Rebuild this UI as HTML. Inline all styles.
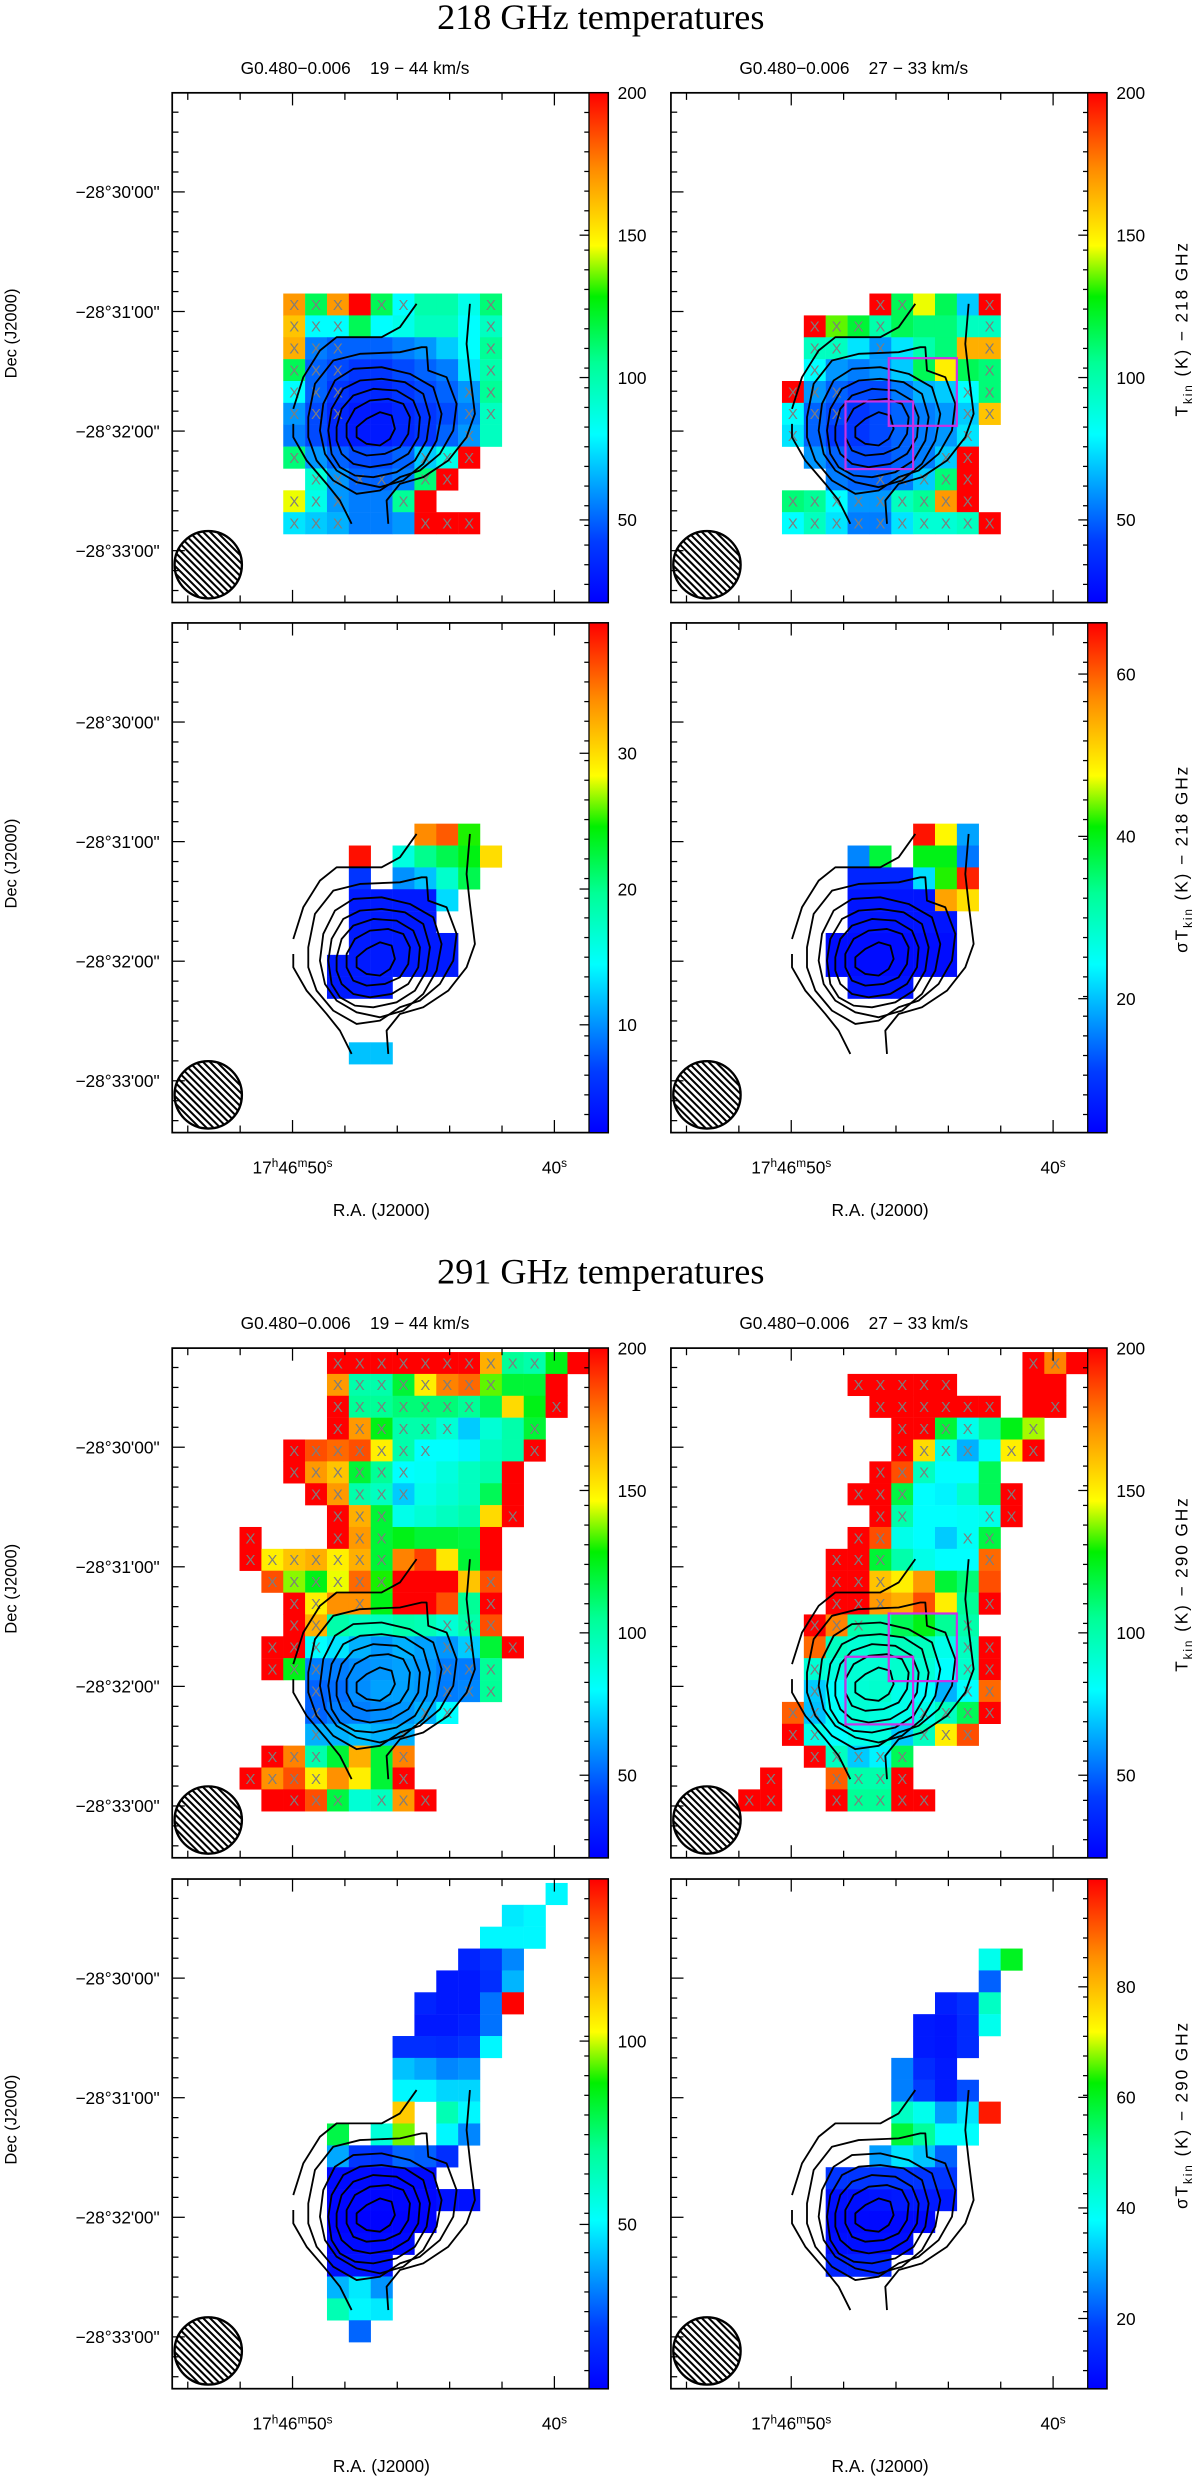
<!DOCTYPE html>
<html>
<head>
<meta charset="utf-8">
<style>
  html,body{margin:0;padding:0;background:#fff;}
  svg{display:block;}
  text{font-family:"Liberation Sans",sans-serif;fill:#000;}
  .serif{font-family:"Liberation Serif",serif;}
</style>
</head>
<body>
<svg id="fig" xmlns="http://www.w3.org/2000/svg" width="1200" height="2476" viewBox="0 0 763 1574" preserveAspectRatio="none">
  <defs>
    <linearGradient id="jet" x1="0" y1="1" x2="0" y2="0">
      <stop offset="0" stop-color="rgb(0,0,255)"/>
      <stop offset="0.12" stop-color="rgb(0,60,255)"/>
      <stop offset="0.33" stop-color="rgb(0,255,255)"/>
      <stop offset="0.47" stop-color="rgb(0,255,150)"/>
      <stop offset="0.6" stop-color="rgb(0,240,0)"/>
      <stop offset="0.7" stop-color="rgb(255,255,0)"/>
      <stop offset="0.85" stop-color="rgb(255,140,0)"/>
      <stop offset="1" stop-color="rgb(255,0,0)"/>
    </linearGradient>
  </defs>
  <text class="serif" x="382" y="18.5" font-size="23" text-anchor="middle">218 GHz temperatures</text>
  <text class="serif" x="382" y="816" font-size="23" text-anchor="middle">291 GHz temperatures</text>
</svg>
<script>
// ---------- DATA ----------
const n = null;
// each row: [startColumn, value, value, ...]
const p1RowStart = 9;
const p1Rows = [
  [2,170,115,170,200,115,80,100,100,85,110],
  [2,160,80,80,115,80,85,95,95,80,95],
  [2,165,55,50,50,50,55,60,70,80,105],
  [2,115,50,45,40,40,45,50,55,75,100],
  [2,80,50,40,35,35,40,45,50,60,105],
  [2,60,45,35,30,30,35,40,45,55,95],
  [2,55,45,35,30,30,35,40,50,60,95],
  [2,110,60,50,45,45,50,70,85,200],
  [3,90,60,50,50,55,110,200],
  [2,145,85,60,55,55,105,200],
  [2,75,70,65,55,55,60,200,200,200]
];
const p1Mask = ["..xxx.xx...x....","..xxx......x....","..xxx......x....","..xxx......x....","..xxx.....xx....","..xxx.....xx....","..........x.....","..x.....xxx.....","...xxxx.xx......","..xxx..x........","..xxx...xxx....."];
const p1Range = [21,200];
const p1Ticks = [50,100,150,200];

const p2RowStart = 9;
const p2Rows = [
  [6,200,115,145,115,70,200],
  [3,200,135,120,100,115,110,110,95,95],
  [3,95,95,75,60,75,100,110,165,165],
  [3,80,60,55,60,70,115,150,115,110],
  [2,200,60,50,45,45,55,65,70,80,110],
  [2,80,50,45,40,45,50,55,60,70,160],
  [2,75,50,40,40,45,50,55,60,75],
  [3,60,50,45,45,50,55,70,200],
  [4,55,50,50,55,70,110,200],
  [2,110,105,80,60,60,95,105,170,200],
  [2,80,95,75,55,55,75,90,90,95,200]
];
const p2Mask = ["......xx...x....","...xxxx....x....","...xx.x....x....","...x.......x....","..xxx.....xx....","..xxx.....xx....","..x.......x.....",".........xx.....","......xxxxx.....","..xxxxxxxxx.....","..xxxxxxxxxx...."];
const p2Range = [21,200];
const p2Ticks = [50,100,150,200];

const p3RowStart = 9;
const p3Rows = [
  [8,34,36,25],
  [5,39,n,16,20,22,24,30],
  [5,6,n,10,12,17,22],
  [5,4,4,4,4,13],
  [5,4,4,4,4],
  [5,4,4,4,4,4],
  [4,4,4,4,4,4,4],
  [4,4,4,4],
  [],
  [],
  [5,12,12]
];
const p3Range = [2.06,39.6];
const p3Ticks = [10,20,30];

const p4RowStart = 9;
const p4Rows = [
  [8,65,48,18],
  [5,16,38,n,40,40,15],
  [5,8,8,8,22,42,64],
  [5,6,6,6,6,55,50],
  [5,6,6,6,6,6],
  [4,5,5,5,5,5,5],
  [4,5,5,5,5,5,5],
  [5,6,6,6]
];
const p4Range = [3.5,66.3];
const p4Ticks = [20,40,60];

const p5RowStart = 0;
const p5Rows = [
  [4,200,200,200,200,200,200,200,165,105,100,125,200],
  [4,170,100,100,120,150,175,180,135,120,120,200],
  [4,200,105,105,110,110,110,105,115,155,125,200],
  [4,200,170,125,100,100,90,70,90,100,120],
  [2,200,185,180,185,150,100,80,80,78,95,100,200],
  [2,200,170,160,120,105,80,82,88,95,100,200],
  [3,200,170,100,95,70,85,90,95,115,200],
  [4,200,165,120,85,90,95,100,155,200],
  [0,200,n,n,n,200,170,120,125,120,120,118,200],
  [0,200,150,160,165,150,165,120,175,188,152,120,200],
  [1,185,138,125,145,180,130,200,200,200,160,185],
  [2,200,150,172,172,125,200,200,185,105,200],
  [2,200,165,100,95,95,100,98,90,100,185],
  [1,200,200,80,75,65,60,65,62,60,70,120,200],
  [1,200,125,55,55,58,60,62,60,55,55,105],
  [3,50,52,58,62,62,60,55,57,105],
  [3,50,55,55,58,60,65,80],
  [3,65,65,68,65,65],
  [1,200,175,100,120,165,120,175],
  [0,200,172,185,150,172,150,120,200],
  [1,200,200,185,118,90,95,170,200]
];
const p5Mask = ["....xxxxxxxxxx..","....xxxxxxxx....","....xxxxxxx...x.","....xxxxxx...x..","..xxxxxxx....x..","..xxxxxx........","...xxxxx........","....xxx.....x...","x...xxx.........","xxxxxxx.........",".xxxxxx....x....","..xx.x.....x....","..xx.....xxx....",".xxx.....xx.x...",".xxx.....xxx....","...x.....xxx....","...x....xx......","...x...x........",".xxx...x........","xxxx...x........","..xxx.xxx......."];
const p5Range = [21,200];
const p5Ticks = [50,100,150,200];

const p6RowStart = 0;
const p6Rows = [
  [13,200,175,200],
  [5,200,200,200,200,200,n,n,n,200,200],
  [6,200,200,200,200,200,200,n,200,200],
  [7,200,200,120,85,105,125,140],
  [7,200,155,85,65,82,150,200],
  [6,200,185,95,80,80,115],
  [5,200,200,118,80,78,92,115,200],
  [6,200,100,80,80,82,85,200],
  [5,200,185,85,80,70,82,118],
  [4,200,200,120,100,85,80,80,180],
  [4,200,200,160,150,170,120,110,185],
  [4,200,200,170,165,185,150,105,200],
  [3,200,175,100,100,115,125,105,100],
  [3,180,95,90,95,95,95,85,95,200],
  [3,90,88,90,90,92,90,80,92,200],
  [3,70,80,90,92,85,80,65,80,180],
  [2,182,68,82,90,88,85,85,95,115,200],
  [2,200,85,80,85,88,70,95,150,185],
  [3,200,95,70,78,115],
  [1,200,n,n,182,100,100,200],
  [0,200,200,n,n,200,105,105,200,200]
];
const p6Mask = [".............xx.",".....xxxxx......","......xxxxxx..x.",".......xxxx..x..",".......xxxx.xx..","......xxx.......",".....xxx....x...","......xx...xx...",".....xx...xx....","....xxx....x....","....xxx.........","....xxx....x....","...xxx....x.....","..........xx....","...x......xx....","...x......xx....","..xx....xxxx....","..xx....xxx.....","...xxxxx........",".x..xxxx........","xx..xxxxx......."];
const p6Range = [21,200];
const p6Ticks = [50,100,150,200];

const p7RowStart = 0;
const p7Rows = [
  [14,50],
  [12,48,50],
  [11,50,50,50],
  [10,15,20,33],
  [9,12,12,18,40],
  [8,15,12,12,30,144],
  [8,12,12,14,30],
  [7,18,18,17,20,50],
  [7,42,38,33,35],
  [7,50,50,45,45],
  [7,112,n,65,50],
  [4,80,n,58,95,n,50,33],
  [4,38,20,20,28,27,18],
  [4,8,8,8,8,8],
  [4,7,7,7,7,7,10,10],
  [4,6,6,6,6,6],
  [4,8,8,8,8],
  [4,10,10,10],
  [4,40,48,35],
  [4,65,50,48],
  [5,28]
];
const p7Range = [5.2,144.2];
const p7Ticks = [50,100];

const p8RowStart = 0;
const p8Rows = [
  [],[],[],
  [11,40,60],
  [11,22],
  [9,13,16,45],
  [8,12,11,15,40],
  [8,12,11,15],
  [7,25,15,12],
  [7,25,18,12,20],
  [7,45,40,28,35,97],
  [7,58,50,38,38],
  [6,28,35,32,22],
  [4,17,17,17,17,17,17],
  [4,10,10,11,12,12,12],
  [4,9,9,9,9,9],
  [4,10,10,10,10],
  [4,14,14,14]
];
const p8Range = [7.3,99.5];
const p8Ticks = [20,40,60,80];

// contour levels (traced in a 0.2119-scaled local frame)
const contourClosed = [
  [[470,1030],[500,1005],[540,985],[575,995],[585,1035],[570,1065],[540,1085],[500,1080],[470,1060]],
  [[440,1020],[465,975],[510,950],[565,945],[610,960],[630,1000],[625,1050],[600,1090],[555,1110],[500,1115],[460,1100],[440,1060]],
  [[410,1030],[425,975],[460,935],[520,915],[590,920],[640,950],[660,1000],[655,1060],[625,1110],[575,1140],[510,1150],[460,1140],[425,1110],[410,1070]],
  [[385,1040],[395,975],[430,915],[480,890],[545,885],[615,895],[670,930],[690,1000],[680,1070],[645,1130],[590,1165],[520,1180],[465,1175],[420,1150],[395,1110]],
  [[360,1040],[370,960],[405,890],[460,855],[545,850],[630,870],[700,910],[725,990],[710,1070],[670,1140],[610,1190],[540,1210],[470,1195],[410,1160],[375,1110]],
  [[325,1000],[345,900],[400,830],[480,810],[600,805],[665,790],[680,790],[685,860],[740,880],[770,960],[760,1040],[720,1110],[660,1160],[600,1180],[540,1220],[470,1230],[400,1190],[350,1130],[325,1060]]
];
const contourOpen = [
  [[455,1320],[420,1250],[380,1200],[320,1130],[280,1060],[280,1020]],
  [[280,975],[310,880],[360,800],[410,760],[545,760],[600,730],[650,660]],
  [[810,660],[800,780],[810,870],[825,990],[800,1060],[745,1130],[670,1180],[600,1200],[560,1250],[565,1320]]
];

// ---------- LAYOUT ----------
const NS = 'http://www.w3.org/2000/svg';
const svg = document.getElementById('fig');
const FX = [109.5, 426.6];
const FY = [59, 396, 857, 1194.5];
const FW = 277.2, FH = 324, CBW = 12.2;
const CELL = 13.9, GX = 42.8, GY = 2.5;

function mk(tag, attrs, parent) {
  const e = document.createElementNS(NS, tag);
  for (const k in attrs) e.setAttribute(k, attrs[k]);
  (parent || svg).appendChild(e);
  return e;
}
const STOPS = [[0,0,0,255],[0.12,0,60,255],[0.33,0,255,255],[0.47,0,255,150],[0.6,0,240,0],[0.7,255,255,0],[0.85,255,140,0],[1,255,0,0]];
function jet(f) {
  f = Math.max(0, Math.min(1, f));
  for (let i = 1; i < STOPS.length; i++) {
    if (f <= STOPS[i][0]) {
      const a = STOPS[i-1], b = STOPS[i], t = (f - a[0]) / (b[0] - a[0]);
      return 'rgb(' + Math.round(a[1]+(b[1]-a[1])*t) + ',' + Math.round(a[2]+(b[2]-a[2])*t) + ',' + Math.round(a[3]+(b[3]-a[3])*t) + ')';
    }
  }
  return 'rgb(255,0,0)';
}
function xCol(fx, c) { return fx + GX + c * CELL; }
function yRow(fy, r) { return fy + GY + r * CELL; }

const panels = [
  {id:'p1', col:0, row:0, rows:p1Rows, rs:p1RowStart, mask:p1Mask, range:p1Range, ticks:p1Ticks, boxes:false},
  {id:'p2', col:1, row:0, rows:p2Rows, rs:p2RowStart, mask:p2Mask, range:p2Range, ticks:p2Ticks, boxes:true},
  {id:'p3', col:0, row:1, rows:p3Rows, rs:p3RowStart, mask:null, range:p3Range, ticks:p3Ticks, boxes:false},
  {id:'p4', col:1, row:1, rows:p4Rows, rs:p4RowStart, mask:null, range:p4Range, ticks:p4Ticks, boxes:false},
  {id:'p5', col:0, row:2, rows:p5Rows, rs:p5RowStart, mask:p5Mask, range:p5Range, ticks:p5Ticks, boxes:false},
  {id:'p6', col:1, row:2, rows:p6Rows, rs:p6RowStart, mask:p6Mask, range:p6Range, ticks:p6Ticks, boxes:true},
  {id:'p7', col:0, row:3, rows:p7Rows, rs:p7RowStart, mask:null, range:p7Range, ticks:p7Ticks, boxes:false},
  {id:'p8', col:1, row:3, rows:p8Rows, rs:p8RowStart, mask:null, range:p8Range, ticks:p8Ticks, boxes:false}
];
const cbTitles = ['T|kin| (K) − 218 GHz','σT|kin| (K) − 218 GHz','T|kin| (K) − 290 GHz','σT|kin| (K) − 290 GHz'];
const decLabels = ["−28°30'00\"","−28°31'00\"","−28°32'00\"","−28°33'00\""];

panels.forEach(function(p) {
  const fx = FX[p.col], fy = FY[p.row];
  const g = mk('g', {});
  
  
  const vmin = p.range[0], vmax = p.range[1];

  // cells
  p.rows.forEach(function(row, i) {
    if (!row.length) return;
    const start = row[0];
    for (let j = 1; j < row.length; j++) {
      const v = row[j];
      if (v === null) continue;
      const c = start + j - 1, r = p.rs + i;
      const rect = mk('rect', {x: xCol(fx, c), y: yRow(fy, r), width: CELL + 0.15, height: CELL + 0.15, fill: jet((v - vmin) / (vmax - vmin))}, g);
      
      
    }
  });
  // X markers
  if (p.mask) {
    p.mask.forEach(function(s, i) {
      for (let c = 0; c < s.length; c++) {
        if (s[c] !== 'x') continue;
        const t = mk('text', {x: xCol(fx, c) + CELL/2, y: yRow(fy, p.rs + i) + CELL/2 + 3.4, 'font-size': 9.5, 'text-anchor': 'middle', fill: '#808080'}, g);
        
        
        t.style.fill = '#7d7d7d';
        t.textContent = 'X';
      }
    });
  }
  // contours
  const cg = mk('g', {transform: 'translate(' + (fx + 17.65) + ',' + (fy - 5.7) + ') scale(0.2119)', fill: 'none', stroke: '#000', 'stroke-width': 5.5, 'stroke-linejoin': 'round'}, g);
  
  
  contourClosed.forEach(function(pts) {
    const pl = mk('polygon', {points: pts.map(function(q){return q.join(',');}).join(' ')}, cg);
    
    
  });
  contourOpen.forEach(function(pts) {
    const pl = mk('polyline', {points: pts.map(function(q){return q.join(',');}).join(' ')}, cg);
    
    
  });
  // magenta boxes
  if (p.boxes) {
    const b1 = mk('rect', {x: fx + 138.5, y: fy + 168.7, width: 43.3, height: 43, fill: 'none', stroke: '#c832e6', 'stroke-width': 1.4}, g);
    
    
    const b2 = mk('rect', {x: fx + 111, y: fy + 196.2, width: 43, height: 43, fill: 'none', stroke: '#c832e6', 'stroke-width': 1.4}, g);
    
    
  }
  // beam
  const cx = fx + 22.9, cy = fy + 300, br = 21.4;
  const clip = mk('clipPath', {id: 'clip-' + p.id});
  mk('circle', {cx: cx, cy: cy, r: br}, clip);
  const hg = mk('g', {'clip-path': 'url(#clip-' + p.id + ')', stroke: '#000', 'stroke-width': 1.3}, g);
  
  
  for (let o = -44; o <= 44; o += 4.4) {
    mk('line', {x1: cx + o - 30, y1: cy - 30, x2: cx + o + 30, y2: cy + 30}, hg);
  }
  const bc = mk('circle', {cx: cx, cy: cy, r: br, fill: 'none', stroke: '#000', 'stroke-width': 1.5}, g);
  
  

  // frame
  const fr = mk('rect', {x: fx, y: fy, width: FW, height: FH, fill: 'none', stroke: '#000', 'stroke-width': 1.1}, g);
  
  
  // colorbar
  const cb = mk('rect', {x: fx + FW - CBW, y: fy, width: CBW, height: FH, fill: 'url(#jet)', stroke: '#000', 'stroke-width': 0.8}, g);
  
  
  const tk = mk('g', {stroke: '#000', 'stroke-width': 0.8}, g);
  
  
  for (let y = fy + 12.5; y < fy + FH; y += 12.5) {
    mk('line', {x1: fx + FW - CBW, y1: y, x2: fx + FW - CBW - 3, y2: y}, tk);
  }
  p.ticks.forEach(function(v) {
    const y = fy + FH - (v - vmin) / (vmax - vmin) * FH;
    mk('line', {x1: fx + FW - CBW, y1: y, x2: fx + FW - CBW - 6, y2: y}, tk);
    const t = mk('text', {x: fx + FW + 6, y: y + 4, 'font-size': 11}, g);
    
    
    t.textContent = String(v);
  });
  // RA ticks top/bottom
  for (let k = -2; k <= 5; k++) {
    const x = fx + 76.5 + k * 33.3;
    const len = (k === 0 || k === 5) ? 8 : 4.5;
    mk('line', {x1: x, y1: fy, x2: x, y2: fy + len}, tk);
    mk('line', {x1: x, y1: fy + FH, x2: x, y2: fy + FH - len}, tk);
  }
  // Dec ticks left
  for (let k = -4; k <= 20; k++) {
    const y = fy + 63 + k * 12.67;
    if (y <= fy + 1 || y >= fy + FH - 1) continue;
    const len = (k % 6 === 0) ? 8 : 4;
    mk('line', {x1: fx, y1: y, x2: fx + len, y2: y}, tk);
  }
  // Dec labels (left column)
  if (p.col === 0) {
    decLabels.forEach(function(s, k) {
      const t = mk('text', {x: fx - 8, y: fy + 63 + 76 * k + 4, 'font-size': 11, 'text-anchor': 'end'}, g);
      
      
      t.textContent = s;
    });
    const dt = mk('text', {x: 0, y: 0, 'font-size': 10.5, 'text-anchor': 'middle', transform: 'translate(' + 10.5 + ',' + (fy + 153) + ') rotate(-90)'}, g);
    
    
    dt.textContent = 'Dec  (J2000)';
  } else {
    const parts = cbTitles[p.row].split('|');
    const ct = mk('text', {x: 0, y: 0, 'font-size': 11, 'text-anchor': 'middle', 'letter-spacing': '1.2', transform: 'translate(' + 755 + ',' + (fy + 150) + ') rotate(-90)'}, g);
    
    
    const a = mk('tspan', {}, ct); a.textContent = parts[0];
    const b = mk('tspan', {dy: 3, 'font-size': 7.5}, ct); b.textContent = parts[1];
    const c = mk('tspan', {dy: -3}, ct); c.textContent = parts[2];
  }
  // subtitles (rows 0 and 2)
  if (p.row === 0 || p.row === 2) {
    const st = mk('text', {x: fx + 43.5 + (p.col ? 0 : 0), y: fy - 12, 'font-size': 11, 'xml:space': 'preserve'}, g);
    
    
    st.style.whiteSpace = 'pre';
    st.textContent = p.col === 0 ? 'G0.480−0.006    19 − 44 km/s' : 'G0.480−0.006    27 − 33 km/s';
  }
  // RA labels (rows 1 and 3)
  if (p.row === 1 || p.row === 3) {
    const r1 = mk('text', {x: fx + 76.5, y: fy + FH + 26, 'font-size': 11, 'text-anchor': 'middle'}, g);
    
    
    const s1 = [['17',0],['h',1],['46',0],['m',1],['50',0],['s',1]];
    s1.forEach(function(q, i) {
      const ts = mk('tspan', q[1] ? {'font-size': 7.5, dy: -4} : {'font-size': 11, dy: i === 0 ? 0 : 4}, r1);
      ts.textContent = q[0];
    });
    const r2 = mk('text', {x: fx + 243, y: fy + FH + 26, 'font-size': 11, 'text-anchor': 'middle'}, g);
    
    
    const a2 = mk('tspan', {}, r2); a2.textContent = '40';
    const b2 = mk('tspan', {'font-size': 7.5, dy: -4}, r2); b2.textContent = 's';
    const xt = mk('text', {x: fx + 133, y: fy + FH + 53, 'font-size': 11, 'text-anchor': 'middle'}, g);
    
    
    xt.textContent = 'R.A. (J2000)';
  }
});
</script>
</body>
</html>
